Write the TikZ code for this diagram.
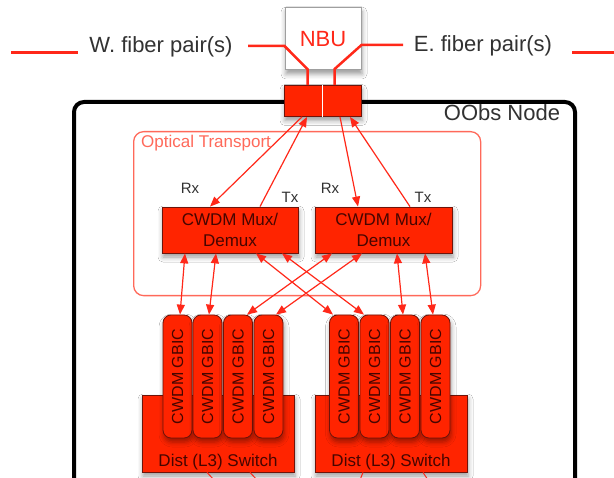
\documentclass[tikz,border=0pt]{standalone}
\usepackage{fontspec}
\setmainfont{Liberation Sans}
\usetikzlibrary{arrows.meta,shadows.blur,calc}
\definecolor{boxred}{RGB}{255,36,0}
\definecolor{linered}{RGB}{255,40,25}
\definecolor{ltred}{RGB}{255,105,90}
\definecolor{darktxt}{RGB}{70,5,0}
\definecolor{graytxt}{RGB}{50,50,50}
\definecolor{boxedge}{RGB}{110,20,10}
\begin{document}
\begin{tikzpicture}[x=1pt,y=-1pt,
  softshadow/.style={blur shadow={shadow xshift=1pt,shadow yshift=-4pt,shadow blur radius=5pt,shadow opacity=40}},
  redbox/.style={draw=boxedge, line width=0.8pt, fill=boxred, text=darktxt, inner sep=0pt, softshadow},
  gbic/.style={redbox, rotate=90, minimum width=123pt, minimum height=29pt, rounded corners=8pt, font=\fontsize{16}{18}\selectfont},
  muxbox/.style={redbox, minimum width=136pt, minimum height=46pt, align=center, font=\fontsize{17}{21}\selectfont},
  switchbox/.style={redbox, minimum width=152pt, minimum height=77pt},
  lbl/.style={inner sep=0pt, text=graytxt},
  fiber/.style={draw=linered, line width=3pt},
  infiber/.style={draw=linered, line width=2.5pt},
  arr/.style={draw=linered, line width=1.2pt, -{Triangle[length=10pt,width=8pt]}},
  darr/.style={draw=linered, line width=1.2pt, {Triangle[length=10pt,width=8pt]}-{Triangle[length=10pt,width=8pt]}},
  botline/.style={draw=linered, line width=1pt}
]
\useasboundingbox (0,0) rectangle (614,478);
\fill[white] (0,0) rectangle (614,478);

% OObs node container
\node[draw=black, line width=4pt, rounded corners=10pt, minimum width=501pt, minimum height=420pt, anchor=north west, inner sep=0pt] (oobs) at (72,100) {};
\node[lbl, font=\fontsize{22}{24}\selectfont] (oobslbl) at (502,113) {OObs Node};

% Optical transport
\node[draw=ltred, line width=1.3pt, rounded corners=10pt, minimum width=347pt, minimum height=164pt, anchor=north west, inner sep=0pt] (ot) at (133,131) {};
\node[inner sep=0pt, anchor=west, text=ltred, font=\fontsize{17}{19}\selectfont] (otlbl) at (141,143) {Optical Transport};

% NBU and fibers
\node[draw=gray!75, line width=1pt, fill=white, minimum width=76pt, minimum height=62pt, inner sep=0pt, text=linered, font=\fontsize{22}{24}\selectfont, softshadow] (nbu) at (323,39) {NBU};
\node[lbl, font=\fontsize{22}{24}\selectfont] (wtxt) at (161,47) {W. fiber pair(s)};
\node[lbl, font=\fontsize{22}{24}\selectfont] (etxt) at (483,46) {E. fiber pair(s)};
\coordinate (wa) at (11,53);
\coordinate (wb) at (78,53);
\coordinate (wc) at (248,46);
\coordinate (ea) at (572,53);
\coordinate (eb) at (614,53);
\coordinate (ec) at (403,45);
\draw[fiber] (wa) -- (wb);
\draw[fiber] (ea) -- (eb);

\node[redbox, minimum width=77pt, minimum height=31pt] (sb) at (322.5,101) {};
\draw[infiber] (wc) -- ([yshift=-7pt]nbu.west) -- ([xshift=-15pt,yshift=16pt]sb.north) -- ([xshift=-15pt]sb.north);
\draw[infiber] (ec) -- ([yshift=-6pt]nbu.east) -- ([xshift=12pt,yshift=16pt]sb.north) -- ([xshift=12pt]sb.north);
\draw[white, line width=1.2pt] (sb.north) -- (sb.south);

% Mux/Demux
\node[muxbox] (muxL) at (230,230) {CWDM Mux/\\Demux};
\node[muxbox, minimum width=137pt] (muxR) at (383.5,230) {CWDM Mux/\\Demux};

\node[lbl, font=\fontsize{15}{17}\selectfont] (rxL) at (190,188) {Rx};
\node[lbl, font=\fontsize{15}{17}\selectfont] (txL) at (290,197) {Tx};
\node[lbl, font=\fontsize{15}{17}\selectfont] (rxR) at (330,188) {Rx};
\node[lbl, font=\fontsize{15}{17}\selectfont] (txR) at (423,197) {Tx};

\draw[arr] ([xshift=-20.5pt]sb.south) -- ([xshift=-20pt]muxL.north);
\draw[arr] ([xshift=30pt]muxL.north) -- ([xshift=-15.5pt]sb.south);
\draw[arr] ([xshift=17.5pt]sb.south) -- ([xshift=-25.5pt]muxR.north);
\draw[arr] ([xshift=26.5pt]muxR.north) -- ([xshift=27.5pt]sb.south);

% Switches
\node[switchbox] (swL) at (218,433.5) {};
\node[switchbox] (swR) at (391,433.5) {};
\node[inner sep=0pt, text=darktxt, font=\fontsize{17}{19}\selectfont] (swLlbl) at (218,462) {Dist (L3) Switch};
\node[inner sep=0pt, text=darktxt, font=\fontsize{17}{19}\selectfont] (swRlbl) at (391,462) {Dist (L3) Switch};

% GBICs
\foreach \i/\x in {1/177.5,2/207.5,3/238,4/268.5}
  \node[gbic] (gL\i) at (\x,376.5) {CWDM GBIC};
\foreach \i/\x in {1/344,2/374.5,3/405,4/435.5}
  \node[gbic] (gR\i) at (\x,376.5) {CWDM GBIC};

% Mux to GBIC links
\draw[darr] ([xshift=-45pt]muxL.south) -- ([xshift=2.5pt]gL1.east);
\draw[darr] ([xshift=-14pt]muxL.south) -- ([xshift=1.5pt]gL2.east);
\draw[darr] ([xshift=26pt]muxL.south) -- ([xshift=-11pt]gR1.east);
\draw[darr] ([xshift=52pt]muxL.south) -- ([xshift=-10.5pt]gR2.east);
\draw[darr] ([xshift=-51.5pt]muxR.south) -- ([xshift=9pt]gL3.east);
\draw[darr] ([xshift=-21.5pt]muxR.south) -- ([xshift=7.5pt]gL4.east);
\draw[darr] ([xshift=13.5pt]muxR.south) -- ([xshift=-2pt]gR3.east);
\draw[darr] ([xshift=41.5pt]muxR.south) -- ([xshift=-2.5pt]gR4.east);

% lines leaving the switches
\coordinate (bl1) at (214,480);
\coordinate (bl2) at (257,480);
\coordinate (bl3) at (360,480);
\coordinate (bl4) at (428,480);
\draw[botline] ([xshift=-11pt]swL.south) -- (bl1);
\draw[botline] ([xshift=32pt]swL.south) -- (bl2);
\draw[botline] ([xshift=-28pt]swR.south) -- (bl3);
\draw[botline] ([xshift=32pt]swR.south) -- (bl4);
\end{tikzpicture}
\end{document}
